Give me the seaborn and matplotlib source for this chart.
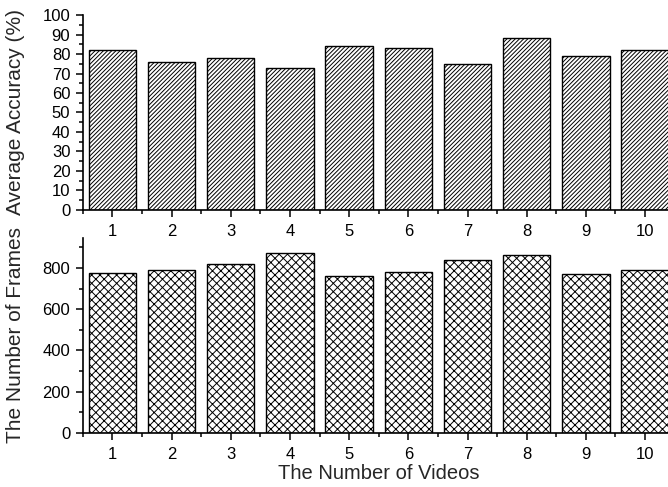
import matplotlib
matplotlib.use("Agg")
import matplotlib.pyplot as plt
from matplotlib.ticker import MultipleLocator
import seaborn as sns
import pandas as pd

# Per-video results
videos = ["1", "2", "3", "4", "5", "6", "7", "8", "9", "10"]
accuracy = [82, 76, 78, 73, 84, 83, 75, 88, 79, 82]
frames = [774, 789, 821, 873, 763, 781, 837, 861, 773, 792]

sns.set_theme(style="ticks")
plt.rcParams["font.family"] = ["Liberation Sans", "DejaVu Sans"]
plt.rcParams["hatch.linewidth"] = 0.7
plt.rcParams["hatch.color"] = "black"

df = pd.DataFrame({"video": videos, "accuracy": accuracy, "frames": frames})

fig = plt.figure(figsize=(6.68, 4.87), dpi=100)
ax_top = fig.add_axes([0.124, 0.569, 0.886, 0.400])
ax_bot = fig.add_axes([0.124, 0.1115, 0.886, 0.3995])

bar_kw = dict(color="white", edgecolor="black", linewidth=1.0, width=0.8,
              saturation=1)
sns.barplot(data=df, x="video", y="accuracy", ax=ax_top, **bar_kw)
sns.barplot(data=df, x="video", y="frames", ax=ax_bot, **bar_kw)

for p in ax_top.patches:
    p.set_hatch("////////")
for p in ax_bot.patches:
    p.set_hatch("xxxx")

for ax in (ax_top, ax_bot):
    ax.set_xlim(-0.5, 9.5)
    ax.xaxis.set_minor_locator(MultipleLocator(1.0, offset=0.5))
    ax.tick_params(axis="both", which="major", direction="out", length=5,
                   width=1.1, labelsize=12, colors="black", pad=4)
    ax.tick_params(axis="both", which="minor", direction="out", length=3,
                   width=1.1, colors="black")
    ax.tick_params(axis="x", which="major", pad=5)
    for side in ("top", "right"):
        ax.spines[side].set_visible(False)
    for side in ("left", "bottom"):
        ax.spines[side].set_linewidth(1.2)
        ax.spines[side].set_color("black")
    ax.set_xlabel("")

ax_top.set_ylim(0, 100)
ax_top.yaxis.set_major_locator(MultipleLocator(10))
ax_top.yaxis.set_minor_locator(MultipleLocator(5))
ax_top.set_ylabel("Average Accuracy (%)", fontsize=15)
ax_top.yaxis.set_label_coords(-0.098, 0.5)

ax_bot.set_ylim(0, 945)
ax_bot.yaxis.set_major_locator(MultipleLocator(200))
ax_bot.yaxis.set_minor_locator(MultipleLocator(100))
ax_bot.set_ylabel("The Number of Frames", fontsize=15)
ax_bot.yaxis.set_label_coords(-0.098, 0.5)
ax_bot.set_xlabel("The Number of Videos", fontsize=14.5, labelpad=2)

fig.savefig("out.png", dpi=100)
